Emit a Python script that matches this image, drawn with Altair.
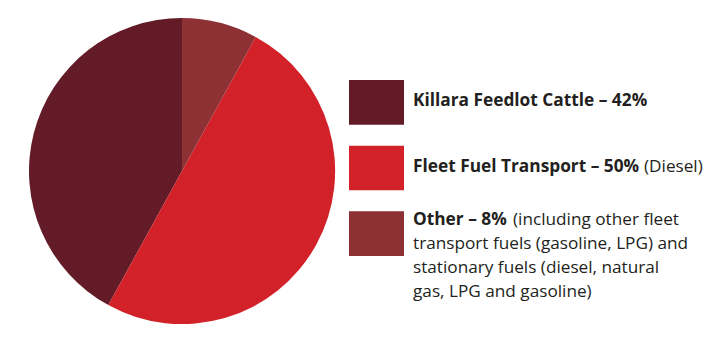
import altair as alt
import pandas as pd

# ---- data ----
categories = ["Killara Feedlot Cattle", "Fleet Fuel Transport", "Other"]
values = [42, 50, 8]
pie_order = [2, 1, 0]  # clockwise from 12 o'clock: Other, Fleet, Killara
colors = ["#641b28", "#d3212a", "#8e3135"]
bold_labels = ["Killara Feedlot Cattle – 42%", "Fleet Fuel Transport – 50%", "Other – 8%"]
suffixes = ["", "(Diesel)", "(including other fleet"]
extra_lines = ["transport fuels (gasoline, LPG) and",
               "stationary fuels (diesel, natural",
               "gas, LPG and gasoline)"]

df = pd.DataFrame({"category": categories, "value": values, "ord": pie_order})

# ---- layout ----
W, H = 703, 337
cx, cy, R = 182, 171, 153
FONT = "Open Sans"
FS_B = 17.3
FS_R = 17.2
TXT = "#231f20"
text_x = 413
bold_baselines = [106, 171.7, 225]
suffix_x = [None, 644, 513]
extra_baselines = [248.5, 272.5, 296.5]

color_scale = alt.Scale(domain=categories, range=colors)

pie = alt.Chart(df).mark_arc(radius=R, stroke=None).encode(
    theta=alt.Theta("value:Q", stack=True),
    color=alt.Color("category:N", scale=color_scale, legend=None),
    order=alt.Order("ord:Q"),
    x=alt.value(cx),
    y=alt.value(cy),
)

swatches = alt.Chart(df).mark_rect().encode(
    y=alt.Y("category:N", sort=categories, axis=None,
            scale=alt.Scale(range=[80, 256], paddingInner=0.32, paddingOuter=0)),
    x=alt.value(349),
    x2=alt.value(404),
    color=alt.Color("category:N", scale=color_scale, legend=None),
)

layers = [pie, swatches]
for i, lab in enumerate(bold_labels):
    layers.append(
        alt.Chart(pd.DataFrame({"t": [lab]})).mark_text(
            font=FONT, fontSize=FS_B, fontWeight="bold", align="left",
            baseline="alphabetic", color=TXT
        ).encode(text="t:N", x=alt.value(text_x), y=alt.value(bold_baselines[i]))
    )
    if suffixes[i]:
        layers.append(
            alt.Chart(pd.DataFrame({"t": [suffixes[i]]})).mark_text(
                font=FONT, fontSize=FS_R, align="left",
                baseline="alphabetic", color=TXT
            ).encode(text="t:N", x=alt.value(suffix_x[i]), y=alt.value(bold_baselines[i]))
        )
for j, line in enumerate(extra_lines):
    layers.append(
        alt.Chart(pd.DataFrame({"t": [line]})).mark_text(
            font=FONT, fontSize=FS_R, align="left",
            baseline="alphabetic", color=TXT
        ).encode(text="t:N", x=alt.value(text_x), y=alt.value(extra_baselines[j]))
    )

chart = alt.layer(*layers).properties(
    width=W, height=H, padding=0, autosize="none", background="white"
).configure_view(stroke=None)

chart.save("out.html", embed_options={"renderer": "svg", "actions": False})
